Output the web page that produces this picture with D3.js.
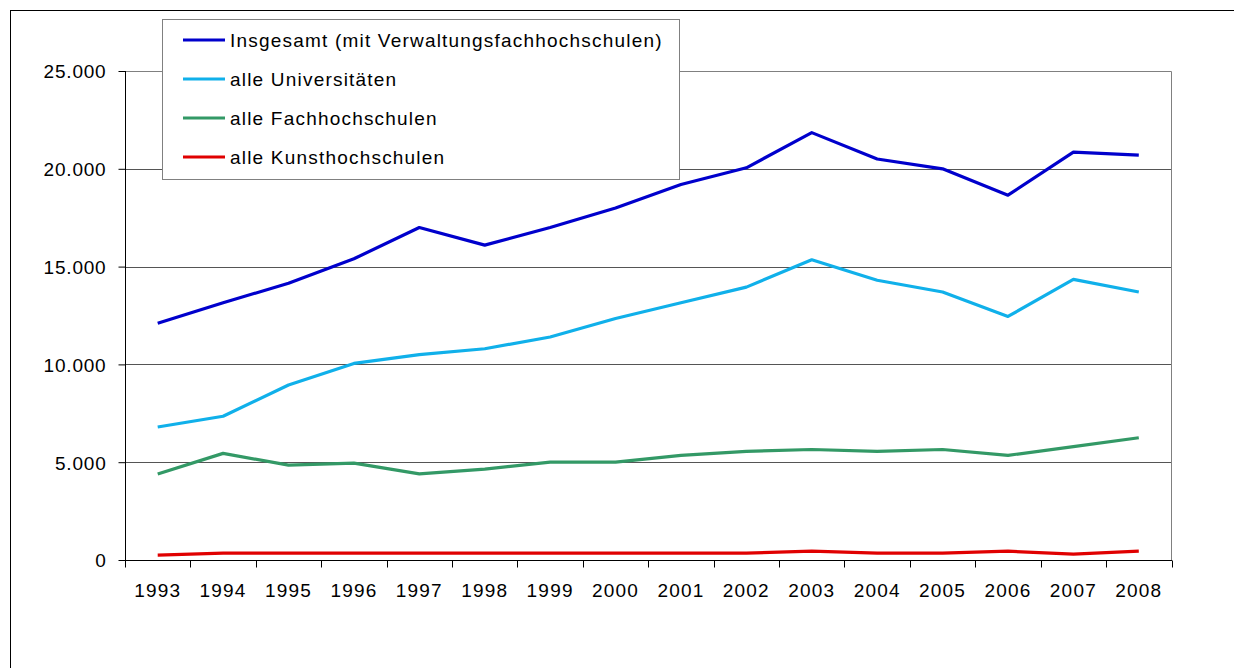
<!DOCTYPE html>
<html>
<head>
<meta charset="utf-8">
<script src="https://cdn.jsdelivr.net/npm/d3@7"></script>
<style>
  body { margin: 0; background: #fff; }
  text { font-family: "Liberation Sans", Arial, sans-serif; font-size: 19px; fill: #000; letter-spacing: 1.2px; }
  .grid line { stroke: #555; stroke-width: 1; }
  .axis path, .axis line { stroke: #000; }
</style>
</head>
<body>
<div id="chart"></div>
<script>
const years = ['1993', '1994', '1995', '1996', '1997', '1998', '1999', '2000',
               '2001', '2002', '2003', '2004', '2005', '2006', '2007', '2008'];
const insgesamt = [12100, 13150, 14150, 15400, 17000, 16100, 17000, 18000,
                   19200, 20050, 21850, 20500, 20000, 18650, 20850, 20700];
const universitaeten = [6800, 7350, 8950, 10050, 10500, 10800, 11400, 12350,
                        13150, 13950, 15350, 14300, 13700, 12450, 14350, 13700];
const fachhochschulen = [4400, 5450, 4850, 4950, 4400, 4650, 5000, 5000,
                         5350, 5550, 5650, 5550, 5650, 5350, 5800, 6250];
const kunsthochschulen = [250, 350, 350, 350, 350, 350, 350, 350,
                          350, 350, 450, 350, 350, 450, 300, 450];
const seriesNames = ['Insgesamt (mit Verwaltungsfachhochschulen)', 'alle Universitäten',
                     'alle Fachhochschulen', 'alle Kunsthochschulen'];
const yTicks = [0, 5000, 10000, 15000, 20000, 25000];

const colors = ['#0000cc', '#10b0ea', '#339966', '#e00000'];
const series = [insgesamt, universitaeten, fachhochschulen, kunsthochschulen];

const width = 1234, height = 668;
const plot = {left: 125, right: 1171.5, top: 71, bottom: 560};

const svg = d3.select('#chart').append('svg')
  .attr('width', width)
  .attr('height', height);

// outer frame (runs off the right and bottom edges)
svg.append('rect')
  .attr('x', 10.5).attr('y', 10.5)
  .attr('width', 1240).attr('height', 700)
  .attr('fill', 'none').attr('stroke', '#000');

const x = d3.scaleBand().domain(years).range([plot.left, plot.right]);
const y = d3.scaleLinear().domain([0, 25000]).range([plot.bottom, plot.top]);

// gridlines
svg.append('g').attr('class', 'grid')
  .selectAll('line')
  .data(yTicks.filter(d => d > 0 && d < 25000))
  .enter().append('line')
  .attr('x1', plot.left).attr('x2', plot.right)
  .attr('y1', d => Math.round(y(d)) + 0.5)
  .attr('y2', d => Math.round(y(d)) + 0.5);

// plot area border (top and right)
svg.append('path')
  .attr('d', `M${plot.left},${plot.top + 0.5}H${plot.right}V${plot.bottom}`)
  .attr('fill', 'none').attr('stroke', '#808080');

// y axis
const yAxis = svg.append('g').attr('class', 'axis')
  .attr('transform', `translate(${plot.left + 0.5},0)`)
  .call(d3.axisLeft(y).tickValues(yTicks).tickSize(7).tickPadding(12)
    .tickFormat(d => d3.format(',')(d).replace(/,/g, '.')));
yAxis.select('.domain').attr('d', `M0,${plot.top}V${plot.bottom}`);
yAxis.selectAll('text').style('font-size', '19px').style('letter-spacing', '0.8px').attr('dy', '0.36em');

// x axis with ticks on category boundaries
const xAxis = svg.append('g').attr('class', 'axis')
  .attr('transform', `translate(0,${plot.bottom + 0.5})`);
xAxis.append('line')
  .attr('x1', plot.left).attr('x2', plot.right + 0.5);
xAxis.selectAll('.bound')
  .data(years.concat(['end']))
  .enter().append('line')
  .attr('class', 'bound')
  .attr('x1', (d, i) => Math.round(plot.left + i * x.step()) + 0.5)
  .attr('x2', (d, i) => Math.round(plot.left + i * x.step()) + 0.5)
  .attr('y1', 0).attr('y2', 7);
xAxis.selectAll('.lbl')
  .data(years)
  .enter().append('text')
  .attr('class', 'lbl')
  .attr('text-anchor', 'middle')
  .attr('x', d => x(d) + x.bandwidth() / 2)
  .attr('y', 36)
  .text(d => d);

// lines
const line = d3.line()
  .x((d, i) => x(years[i]) + x.bandwidth() / 2)
  .y(d => y(d));

series.forEach((s, i) => {
  svg.append('path')
    .datum(s)
    .attr('d', line)
    .attr('fill', 'none')
    .attr('stroke', colors[i])
    .attr('stroke-width', 3.2)
    .attr('stroke-linejoin', 'round');
});

// legend
const legend = svg.append('g');
legend.append('rect')
  .attr('x', 162.5).attr('y', 19.5)
  .attr('width', 517).attr('height', 160)
  .attr('fill', '#fff').attr('stroke', '#808080');

const item = legend.selectAll('.item')
  .data(seriesNames)
  .enter().append('g')
  .attr('transform', (d, i) => `translate(0,${40 + i * 39})`);
item.append('line')
  .attr('x1', 183).attr('x2', 225)
  .attr('stroke', (d, i) => colors[i])
  .attr('stroke-width', 3.2);
item.append('text')
  .attr('x', 230).attr('y', 6.5)
  .text(d => d);
</script>
</body>
</html>
